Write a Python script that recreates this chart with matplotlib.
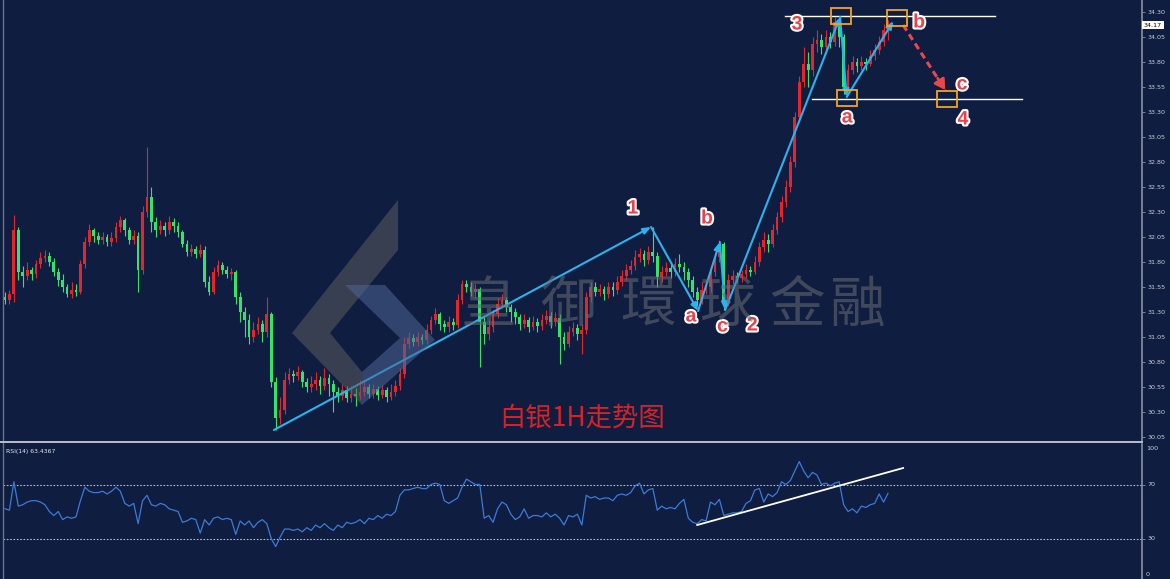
import matplotlib
matplotlib.use("Agg")
import matplotlib.pyplot as plt
import matplotlib.patheffects as pe
import matplotlib.transforms as mtransforms
from matplotlib.patches import Rectangle, Polygon
import numpy as np

# ---------------- data ----------------
first_open = 31.45
closes = [
    31.42, 31.48, 32.12, 31.70, 31.66, 31.72, 31.68, 31.78, 31.84, 31.86,
    31.80, 31.70, 31.62, 31.55, 31.48, 31.52, 31.50, 31.78, 32.00, 32.12,
    32.06, 32.02, 32.05, 32.00, 32.04, 32.15, 32.22, 32.12, 32.02, 32.06,
    31.72, 32.30, 32.45, 32.20, 32.12, 32.16, 32.12, 32.20, 32.16, 32.10,
    31.98, 31.90, 31.93, 31.88, 31.92, 31.60, 31.50, 31.70, 31.77, 31.72,
    31.68, 31.70, 31.45, 31.30, 31.22, 31.05, 31.12, 31.18, 31.10, 31.28,
    30.60, 30.24, 30.32, 30.62, 30.68, 30.66, 30.70, 30.60, 30.55, 30.58,
    30.62, 30.56, 30.64, 30.58, 30.50, 30.46, 30.52, 30.44, 30.48, 30.46,
    30.50, 30.55, 30.48, 30.53, 30.47, 30.52, 30.45, 30.50, 30.56, 30.68,
    30.98, 31.04, 31.00, 31.05, 31.02, 31.12, 31.22, 31.28, 31.18, 31.15,
    31.20, 31.17, 31.42, 31.58, 31.55, 31.50, 31.53, 31.20, 31.08, 31.15,
    31.28, 31.38, 31.42, 31.35, 31.30, 31.25, 31.18, 31.22, 31.15, 31.20,
    31.16, 31.22, 31.26, 31.20, 31.24, 31.05, 30.98, 31.10, 31.14, 31.08,
    31.12, 31.45, 31.55, 31.50, 31.53, 31.48, 31.55, 31.52, 31.60, 31.66,
    31.72, 31.76, 31.85, 31.88, 31.82, 31.90, 31.86, 31.65, 31.70, 31.74,
    31.70, 31.78, 31.75, 31.70, 31.62, 31.50, 31.42, 31.52, 31.55, 31.70,
    31.85, 31.98, 31.38, 31.62, 31.66, 31.64, 31.68, 31.72, 31.70, 31.80,
    31.95, 32.02, 31.98, 32.12, 32.25, 32.40, 32.55, 32.80, 33.25, 33.60,
    33.78, 33.72, 33.98, 34.02, 33.95, 34.05, 34.00, 34.20, 34.05, 33.55,
    33.72, 33.80, 33.76, 33.80, 33.78, 33.86, 33.92, 34.00, 34.12, 34.17,
]
highs = [
    31.50, 31.52, 32.27, 32.15, 31.76, 31.80, 31.75, 31.82, 31.90, 31.92,
    31.90, 31.84, 31.74, 31.68, 31.58, 31.60, 31.58, 31.82, 32.05, 32.18,
    32.14, 32.10, 32.10, 32.08, 32.10, 32.20, 32.26, 32.24, 32.15, 32.12,
    32.10, 32.36, 32.95, 32.55, 32.25, 32.22, 32.20, 32.26, 32.24, 32.20,
    32.12, 32.02, 31.98, 31.96, 31.98, 31.96, 31.66, 31.75, 31.82, 31.80,
    31.76, 31.74, 31.72, 31.50, 31.35, 31.28, 31.20, 31.25, 31.22, 31.45,
    31.30, 30.65, 30.45, 30.70, 30.74, 30.72, 30.76, 30.72, 30.64, 30.66,
    30.70, 30.66, 30.74, 30.68, 30.62, 30.55, 30.58, 30.56, 30.56, 30.54,
    30.62, 30.60, 30.58, 30.58, 30.56, 30.57, 30.55, 30.58, 30.62, 30.74,
    31.05, 31.10, 31.08, 31.10, 31.08, 31.18, 31.26, 31.34, 31.30, 31.22,
    31.26, 31.24, 31.48, 31.62, 31.62, 31.60, 31.58, 31.55, 31.25, 31.22,
    31.32, 31.44, 31.48, 31.45, 31.38, 31.34, 31.28, 31.28, 31.25, 31.26,
    31.24, 31.28, 31.32, 31.30, 31.30, 31.28, 31.10, 31.16, 31.20, 31.18,
    31.18, 31.50, 31.60, 31.60, 31.58, 31.56, 31.60, 31.60, 31.66, 31.72,
    31.78, 31.82, 31.92, 31.94, 31.92, 31.96, 32.15, 31.90, 31.76, 31.80,
    31.78, 31.84, 31.88, 31.80, 31.74, 31.66, 31.55, 31.60, 31.62, 31.76,
    31.90, 32.02, 32.00, 31.68, 31.72, 31.70, 31.72, 31.78, 31.76, 31.86,
    32.00, 32.10, 32.08, 32.18, 32.30, 32.46, 32.62, 32.86, 33.30, 33.66,
    33.95, 33.90, 34.05, 34.12, 34.08, 34.12, 34.10, 34.25, 34.22, 34.08,
    33.78, 33.86, 33.84, 33.86, 33.84, 33.92, 33.98, 34.06, 34.18, 34.22,
]
lows = [
    31.38, 31.38, 31.40, 31.62, 31.55, 31.62, 31.62, 31.64, 31.74, 31.80,
    31.76, 31.66, 31.56, 31.50, 31.45, 31.44, 31.46, 31.48, 31.74, 31.96,
    32.00, 31.98, 31.98, 31.96, 31.96, 32.00, 32.10, 32.06, 31.98, 31.98,
    31.50, 31.68, 32.25, 32.10, 32.05, 32.08, 32.06, 32.08, 32.10, 32.05,
    31.95, 31.86, 31.86, 31.84, 31.85, 31.55, 31.47, 31.48, 31.66, 31.68,
    31.64, 31.62, 31.38, 31.20, 31.05, 30.98, 31.00, 31.08, 31.00, 31.05,
    30.55, 30.12, 30.18, 30.28, 30.58, 30.60, 30.62, 30.55, 30.50, 30.50,
    30.52, 30.48, 30.52, 30.46, 30.30, 30.40, 30.42, 30.40, 30.40, 30.36,
    30.42, 30.46, 30.44, 30.44, 30.42, 30.44, 30.40, 30.42, 30.46, 30.52,
    30.64, 30.94, 30.96, 30.96, 30.98, 30.98, 31.08, 31.18, 31.12, 31.10,
    31.10, 31.12, 31.14, 31.38, 31.50, 31.46, 31.44, 30.75, 30.98, 31.02,
    31.10, 31.24, 31.34, 31.30, 31.20, 31.18, 31.12, 31.14, 31.10, 31.12,
    31.10, 31.12, 31.18, 31.14, 31.16, 30.78, 30.92, 30.95, 31.06, 31.02,
    30.88, 31.08, 31.40, 31.46, 31.46, 31.42, 31.44, 31.46, 31.48, 31.56,
    31.62, 31.68, 31.72, 31.80, 31.76, 31.78, 31.80, 31.55, 31.60, 31.66,
    31.64, 31.66, 31.70, 31.62, 31.55, 31.45, 31.36, 31.38, 31.48, 31.50,
    31.66, 31.80, 31.32, 31.36, 31.58, 31.60, 31.60, 31.64, 31.66, 31.68,
    31.76, 31.90, 31.90, 31.95, 32.08, 32.20, 32.35, 32.50, 32.75, 33.20,
    33.55, 33.55, 33.66, 33.90, 33.88, 33.92, 33.94, 33.96, 33.95, 33.48,
    33.50, 33.68, 33.70, 33.72, 33.72, 33.76, 33.82, 33.88, 33.96, 34.02,
]
rsi = [
    52, 51, 72, 54, 55, 57, 58, 58, 57, 55,
    50, 47, 50, 44, 46, 45, 46, 58, 68, 65,
    64, 64, 65, 63, 65, 68, 65, 56, 54, 56,
    41, 58, 62, 55, 54, 56, 55, 52, 51, 50,
    42, 43, 45, 44, 34, 44, 40, 45, 46, 44,
    45, 44, 33, 43, 40, 43, 38, 42, 44, 41,
    30, 24, 31, 37, 37, 36, 37, 35, 38, 36,
    40, 38, 41, 38, 36, 40, 38, 42, 41, 42,
    44, 41, 45, 44, 47, 45, 48, 47, 50, 62,
    66, 66, 67, 68, 67, 67, 70, 71, 70, 58,
    56, 58, 60, 68, 74, 72, 70, 70, 45, 47,
    42, 52, 57, 55, 48, 44, 46, 52, 45, 47,
    47, 46, 49, 46, 48, 45, 40, 47, 46, 48,
    40, 62, 60, 61, 59, 60, 60, 58, 62, 63,
    62, 64, 69, 71, 63, 66, 67, 51, 54, 52,
    53, 52, 56, 59, 45, 42, 41, 44, 43, 57,
    55, 59, 47, 48, 49, 49, 50, 56, 58, 66,
    67, 57, 63, 61, 64, 72, 70, 73, 80, 87,
    80, 75, 79, 77, 70, 71, 69, 71, 72, 55,
    50, 52, 49, 54, 53, 55, 56, 63, 57, 63.44,
]

price_ticks = [30.05, 30.30, 30.55, 30.80, 31.05, 31.30, 31.55, 31.80, 32.05,
               32.30, 32.55, 32.80, 33.05, 33.30, 33.55, 33.80, 34.05, 34.30]
price_tick_labels = ["30.05", "30.30", "30.55", "30.80", "31.05", "31.30", "31.55",
                     "31.80", "32.05", "32.30", "32.55", "32.80", "33.05", "33.30",
                     "33.55", "33.80", "34.05", "34.30"]
last_price = 34.17
rsi_levels = [70, 30]
rsi_label = "RSI(14) 63.4367"

# Elliott-wave path (bar index, price)
wave_x = [60.6, 145.6, 156.2, 161.1, 162.3, 188.2, 189.7, 200.2]
wave_y = [30.12, 32.15, 31.31, 32.00, 31.32, 34.25, 33.45, 34.21]
proj_x = [202.4, 211.9]          # projected move b -> c (dashed)
proj_y = [34.17, 33.52]
res_x, res_y = [175.8, 223.1], 34.26   # upper horizontal line
sup_x, sup_y = [181.9, 229.2], 33.43   # lower horizontal line
box_x = [188.4, 201.0, 189.8, 212.3]
box_y = [34.26, 34.24, 33.44, 33.43]
wave_labels = ["1", "b", "a", "c", "2", "3", "a", "b", "c", "4"]
wave_label_x = [141.5, 158.2, 154.6, 161.7, 168.4, 178.5, 189.8, 206.0, 215.7, 215.9]
wave_label_y = [32.33, 32.23, 31.25, 31.15, 31.16, 34.17, 33.24, 34.19, 33.57, 33.22]
rsi_trend_x = [156.0, 202.4]
rsi_trend_y = [40.0, 82.2]

title_text = "白银1H走势图"
watermark_chars = ["皇", "御", "環", "球", "金", "融"]

# ---------------- styling ----------------
BG = "#0f1d40"
UP = "#e3262d"
DN = "#34e36c"
WAVE = "#2bb3ee"
TXT = "#c9cdd6"
W, H = 1170, 579

plt.rcParams["font.family"] = ["DejaVu Sans"]
fig = plt.figure(figsize=(W / 100, H / 100), dpi=100, facecolor=BG)

L, R = 3, 1142
ax = fig.add_axes([L / W, (H - 441) / H, (R - L) / W, 441 / H], facecolor=BG)
ax2 = fig.add_axes([L / W, 0, (R - L) / W, 135 / H], facecolor=BG)

u = 883 / 199.0
xmin = -(5 - L) / u
xmax = xmin + (R - L) / u
for a in (ax, ax2):
    a.set_xlim(xmin, xmax)
    a.set_xticks([])
    for s in ("top", "left", "bottom"):
        a.spines[s].set_visible(False)
    a.spines["right"].set_color("#8a91a2")
    a.spines["right"].set_linewidth(1.2)
    a.yaxis.tick_right()
    a.tick_params(axis="y", colors="#8a91a2", labelcolor=TXT, labelsize=4.6,
                  length=2.2, width=0.6, pad=1.5)

ax.set_ylim(30.01, 34.42)
ax2.set_ylim(0, 100)

# left border line & pane divider
fig.add_artist(plt.Line2D([2.5 / W, 2.5 / W], [0, 1], color="#6d7383", lw=1.0))
fig.add_artist(plt.Line2D([0, R / W], [1 - 442 / H, 1 - 442 / H], color="#b9bfcc", lw=1.4))

# ---------------- candles ----------------
idx = np.arange(len(closes))
c = np.array(closes)
o = np.array([first_open] + closes[:-1])
hi = np.array(highs)
lo = np.array(lows)
col = [UP if cc >= oo else DN for oo, cc in zip(o, c)]
ax.vlines(idx, lo, hi, colors=col, lw=0.8, zorder=2)
body_bottom = np.minimum(o, c)
body_h = np.maximum(np.abs(c - o), 0.012)
ax.bar(idx, body_h, bottom=body_bottom, width=0.62, color=col, linewidth=0, zorder=2)

# ---------------- logo + watermark ----------------
def fp(x, y):
    return (x / W, 1 - y / H)

gray_poly = [fp(*p) for p in [(398, 200), (292, 333), (362, 405), (362, 372), (330, 333), (398, 250)]]
blue_poly = [fp(*p) for p in [(345, 285), (385, 285), (435, 340), (362, 405), (362, 372), (400, 338)]]
fig.add_artist(Polygon(gray_poly, closed=True, transform=fig.transFigure,
                       facecolor="#5b5c60", alpha=0.55, edgecolor="none", zorder=3))
fig.add_artist(Polygon(blue_poly, closed=True, transform=fig.transFigure,
                       facecolor="#4d6594", alpha=0.55, edgecolor="none", zorder=3))

wm_x = [488, 568, 648, 727, 797, 857]
for ch, xx in zip(watermark_chars, wm_x):
    fig.text(xx / W, 1 - 306 / H, ch, fontsize=40, color="#6a6c72", alpha=0.55,
             ha="center", va="center", family=["Noto Sans CJK TC", "Noto Sans CJK SC"],
             zorder=3)

# ---------------- wave annotations ----------------
for k in range(len(wave_x) - 1):
    ax.annotate("", xy=(wave_x[k + 1], wave_y[k + 1]), xytext=(wave_x[k], wave_y[k]),
                arrowprops=dict(arrowstyle="-|>,head_length=0.45,head_width=0.18",
                                color=WAVE, lw=1.5, shrinkA=0, shrinkB=0), zorder=5)

ax.plot([res_x[0], res_x[1]], [res_y, res_y], color="white", lw=1.0, zorder=4)
ax.plot([sup_x[0], sup_x[1]], [sup_y, sup_y], color="white", lw=1.0, zorder=4)

# dashed projection arrow
ax.plot(proj_x, proj_y, color="#e8474b", lw=2.2, ls=(0, (2.2, 1.4)), zorder=5)
ax.annotate("", xy=(proj_x[1], proj_y[1]),
            xytext=(proj_x[1] - 0.18 * (proj_x[1] - proj_x[0]),
                    proj_y[1] - 0.18 * (proj_y[1] - proj_y[0])),
            arrowprops=dict(arrowstyle="-|>,head_length=0.6,head_width=0.35",
                            color="#e8474b", lw=2.0, shrinkA=0, shrinkB=0), zorder=5)

bw, bh = 4.5, 0.16
for bx, by in zip(box_x, box_y):
    ax.add_patch(Rectangle((bx - bw / 2, by - bh / 2), bw, bh, fill=False,
                           edgecolor="#f2a51f", lw=1.3, zorder=6))

for t, tx, ty in zip(wave_labels, wave_label_x, wave_label_y):
    ax.text(tx, ty, t, color="#e8424a", fontsize=14, fontweight="bold",
            family=["Liberation Sans"], ha="center", va="center", zorder=7,
            path_effects=[pe.withStroke(linewidth=3, foreground="white")])

ax.text(582 / (R - L) - L / (R - L), 1 - 418 / 441, title_text, transform=ax.transAxes,
        color="#d5232a", fontsize=19, ha="center", va="center",
        family=["Noto Sans CJK SC", "DejaVu Sans"], zorder=7)

# price axis
ax.set_yticks(price_ticks)
ax.set_yticklabels(price_tick_labels)
tr = mtransforms.blended_transform_factory(ax.transAxes, ax.transData)
ax.text(1 + 2 / (R - L), last_price, f"{last_price:.2f}", transform=tr, fontsize=4.6,
        color="black", ha="left", va="center",
        bbox=dict(boxstyle="square,pad=0.25", facecolor="white", edgecolor="none"))

# ---------------- RSI ----------------
ax2.plot(idx, rsi, color="#3b7bd8", lw=0.9, zorder=3)
for lvl in rsi_levels:
    ax2.axhline(lvl, color="#b7bcc9", lw=0.8, ls=(0, (1.5, 1.5)), zorder=2)
ax2.plot(rsi_trend_x, rsi_trend_y, color="white", lw=1.3, zorder=4)
ax2.set_yticks(rsi_levels)
ax2.set_yticklabels([str(v) for v in rsi_levels])
ax2.text(1 + 4 / (R - L), 0.965, "100", transform=ax2.transAxes, fontsize=4.6,
         color=TXT, ha="left", va="center")
ax2.text(1 + 4 / (R - L), 0.03, "0", transform=ax2.transAxes, fontsize=4.6,
         color=TXT, ha="left", va="center")
ax2.text(3 / (R - L), 0.96, rsi_label, transform=ax2.transAxes, fontsize=4.4,
         color="#e4e7ee", ha="left", va="top")

fig.savefig("out.png", dpi=100, facecolor=BG)
